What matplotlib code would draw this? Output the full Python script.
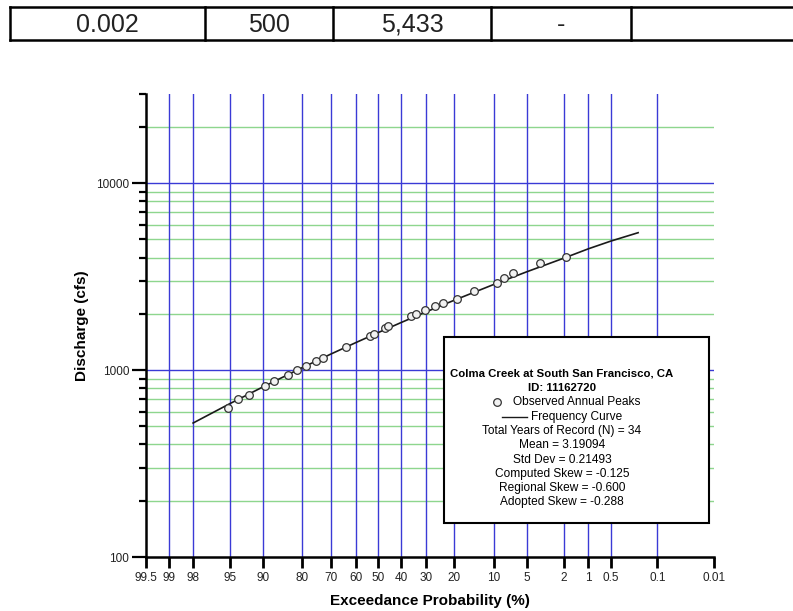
import numpy as np
import matplotlib
matplotlib.use("Agg")
import matplotlib.pyplot as plt
from matplotlib.lines import Line2D
from matplotlib.patches import Rectangle
from matplotlib.ticker import FixedLocator, NullFormatter, NullLocator
from statistics import NormalDist

plt.rcParams["font.family"] = ["Liberation Sans", "DejaVu Sans"]

# ---- data ----------------------------------------------------------------
table_cells = ["0.002", "500", "5,433", "-", ""]

prob_ticks = [99.5, 99, 98, 95, 90, 80, 70, 60, 50, 40, 30, 20, 10, 5, 2, 1, 0.5, 0.1, 0.01]
prob_labels = ["99.5", "99", "98", "95", "90", "80", "70", "60", "50", "40", "30",
               "20", "10", "5", "2", "1", "0.5", "0.1", "0.01"]
prob_grid = [99, 98, 95, 90, 80, 70, 60, 50, 40, 30, 20, 10, 5, 2, 1, 0.5, 0.1]

q_major = [100, 1000, 10000]
q_minor = [200, 300, 400, 500, 600, 700, 800, 900,
           2000, 3000, 4000, 5000, 6000, 7000, 8000, 9000, 20000, 30000]

# observed annual peaks: exceedance probability (%) and discharge (cfs)
obs_exceed = [95.2, 94.0, 92.4, 89.5, 87.6, 84.2, 81.7, 78.9, 75.4, 73.1, 64.0,
              53.9, 51.8, 47.3, 45.7, 36.0, 34.0, 30.3, 26.7, 23.6, 19.1, 14.6,
              9.5, 8.2, 6.8, 3.66, 1.89]
obs_q = [624, 700, 732, 824, 873, 944, 996, 1051, 1119, 1166, 1332,
         1520, 1563, 1671, 1719, 1944, 1993, 2101, 2199, 2291, 2405, 2644,
         2929, 3102, 3313, 3721, 4006]

# frequency curve (log-Pearson III fit)
curve_exceed = [98, 95, 90, 80, 70, 60, 50, 40, 30, 20, 10, 5, 2, 1, 0.5, 0.2]
curve_q = [521, 662, 812, 1032, 1220, 1401, 1589, 1798, 2045, 2366, 2876,
           3358, 3969, 4455, 4900, 5433]

legend_title = ["Colma Creek at South San Francisco, CA", "ID: 11162720"]
legend_stats = ["Total Years of Record (N) = 34", "Mean = 3.19094",
                "Std Dev = 0.21493", "Computed Skew = -0.125",
                "Regional Skew = -0.600", "Adopted Skew = -0.288"]

# ---- figure --------------------------------------------------------------
W, H = 793, 611
fig = plt.figure(figsize=(W / 100, H / 100), dpi=100)


def fx(px):
    return px / W


def fy(py):
    return 1 - py / H


# table row across the top
tbl_left, tbl_right, tbl_top, tbl_bot = 10, 793, 7, 40
col_edges = [10, 205, 333, 491, 631, 793]
for yy in (tbl_top, tbl_bot):
    fig.add_artist(Line2D([fx(tbl_left), fx(tbl_right)], [fy(yy), fy(yy)],
                          transform=fig.transFigure, color="black", lw=1.8))
for xx in col_edges[:-1]:
    fig.add_artist(Line2D([fx(xx), fx(xx)], [fy(tbl_top), fy(tbl_bot)],
                          transform=fig.transFigure, color="black", lw=1.8))
for i, txt in enumerate(table_cells):
    cx = (col_edges[i] + col_edges[i + 1]) / 2
    fig.text(fx(cx), fy((tbl_top + tbl_bot) / 2 + 1), txt, ha="center", va="center",
             fontsize=18, color="#222222")

# probability axis scale
_nd = NormalDist()


def _fwd(p):
    p = np.clip(np.asarray(p, dtype=float) / 100.0, 1e-12, 1 - 1e-12)
    return np.vectorize(_nd.inv_cdf, otypes=[float])(p)


def _inv(z):
    return np.vectorize(_nd.cdf, otypes=[float])(np.asarray(z, dtype=float)) * 100.0


ax = fig.add_axes([fx(146), fy(557), fx(714) - fx(146), fy(94) - fy(557)])
ax.set_xscale("function", functions=(_fwd, _inv))
ax.set_yscale("log")
ax.set_xlim(99.5, 0.01)
ax.set_ylim(100, 30000)

blue = "#3a3ad6"
green = "#8ed68e"
for p in prob_grid:
    ax.axvline(p, color=blue, lw=1.0, zorder=1)
for q in q_minor[:-1]:
    ax.axhline(q, color=green, lw=1.0, zorder=0.9)
for q in (1000, 10000):
    ax.axhline(q, color=blue, lw=1.0, zorder=1)

ax.plot(curve_exceed, curve_q, color="#1a1a1a", lw=1.2, zorder=3)
ax.plot(obs_exceed, obs_q, "o", ms=5.5, mfc="#f2f2f2", mec="#333333", mew=0.9, zorder=4)

for s in ("top", "right"):
    ax.spines[s].set_visible(False)
for s in ("left", "bottom"):
    ax.spines[s].set_linewidth(1.8)

ax.xaxis.set_major_locator(FixedLocator(prob_ticks))
ax.set_xticklabels(prob_labels)
ax.xaxis.set_minor_locator(NullLocator())
ax.yaxis.set_major_locator(FixedLocator(q_major))
ax.set_yticklabels([str(q) for q in q_major])
ax.yaxis.set_minor_locator(FixedLocator(q_minor))
ax.yaxis.set_minor_formatter(NullFormatter())
ax.tick_params(axis="x", which="major", length=8, width=2, labelsize=8.5, pad=3,
               labelcolor="#222222")
ax.tick_params(axis="y", which="major", length=10, width=1.6, labelsize=8.5, pad=2,
               labelcolor="#222222")
ax.tick_params(axis="y", which="minor", length=5, width=1.6)

ax.set_xlabel("Exceedance Probability (%)", fontsize=11, fontweight="bold", labelpad=7)
ax.set_ylabel("Discharge (cfs)", fontsize=11, fontweight="bold", labelpad=5)

# information box
bx0, bx1, by0, by1 = 444, 709, 337, 523
fig.add_artist(Rectangle((fx(bx0), fy(by1)), fx(bx1) - fx(bx0), fy(by0) - fy(by1),
                         transform=fig.transFigure, fc="white", ec="black", lw=1.5,
                         zorder=5))
cx = 562
fig.text(fx(cx), fy(373), legend_title[0], ha="center", va="center", fontsize=8.2,
         fontweight="bold", zorder=6)
fig.text(fx(cx), fy(388), legend_title[1], ha="center", va="center", fontsize=8.2,
         fontweight="bold", zorder=6)
fig.add_artist(Line2D([fx(497)], [fy(402)], transform=fig.transFigure, marker="o",
                      ms=5.5, mfc="#f2f2f2", mec="#333333", mew=0.9, ls="none",
                      zorder=6))
fig.text(fx(513), fy(402), "Observed Annual Peaks", ha="left", va="center",
         fontsize=8.6, zorder=6)
fig.add_artist(Line2D([fx(502), fx(527)], [fy(417), fy(417)], transform=fig.transFigure,
                      color="#1a1a1a", lw=1.0, zorder=6))
fig.text(fx(531), fy(417), "Frequency Curve", ha="left", va="center", fontsize=8.6,
         zorder=6)
for i, txt in enumerate(legend_stats):
    fig.text(fx(cx), fy(431 + i * 14.3), txt, ha="center", va="center", fontsize=8.6,
             zorder=6)

fig.savefig("out.png", dpi=100)
